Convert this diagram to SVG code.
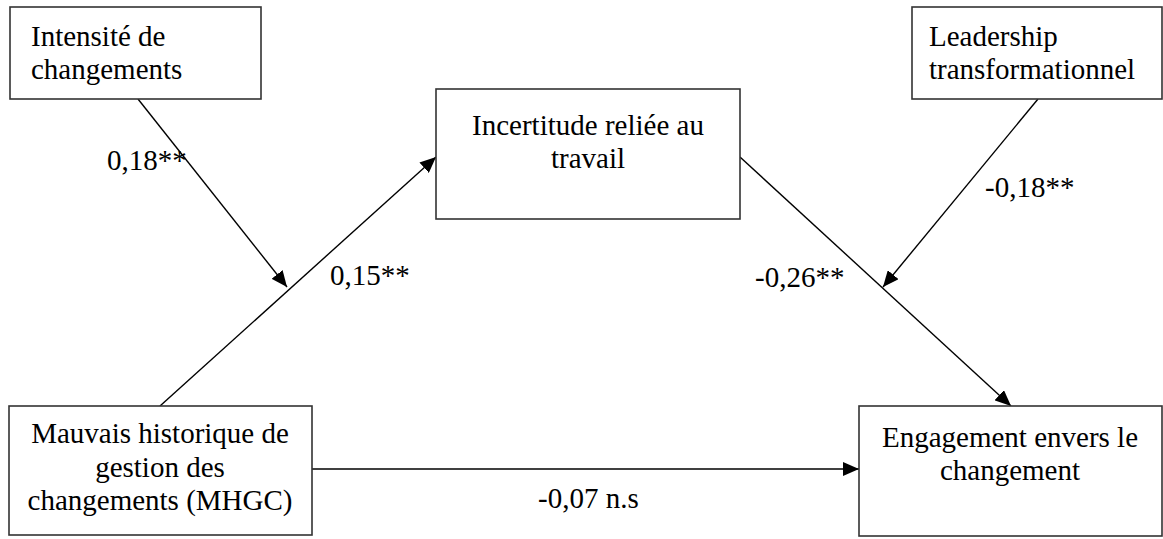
<svg xmlns="http://www.w3.org/2000/svg" width="1163" height="539" viewBox="0 0 1163 539">
<style>
.box{fill:#fff;stroke:#333;stroke-width:1.6}
.t{font-family:"Liberation Serif","Times New Roman",serif;font-size:29px;fill:#000}
.c{text-anchor:middle}
.ln{stroke:#000;stroke-width:1.4;fill:none;marker-end:url(#ah)}
</style>
<defs>
<marker id="ah" markerUnits="userSpaceOnUse" markerWidth="17" markerHeight="14" refX="16" refY="7" orient="auto">
<path d="M0,0 L16,7 L0,14 z" fill="#000"/>
</marker>
</defs>
<rect width="1163" height="539" fill="#fff"/>
<g id="connectors">
<line class="ln" x1="138" y1="99" x2="287" y2="287"/>
<line class="ln" x1="1038" y1="99" x2="883" y2="287"/>
<line class="ln" x1="160" y1="406" x2="436" y2="157"/>
<line class="ln" x1="740" y1="157" x2="1011" y2="406"/>
<line class="ln" x1="312" y1="469" x2="859" y2="469"/>
<text class="t" x="107" y="170">0,18**</text>
<text class="t" x="330" y="285">0,15**</text>
<text class="t" x="985" y="197">-0,18**</text>
<text class="t" x="755" y="287">-0,26**</text>
<text class="t" x="538" y="508">-0,07 n.s</text>
</g>
<g id="intensite">
<rect class="box" x="10" y="7" width="251" height="92"/>
<text class="t" x="31" y="46">Intensité de</text>
<text class="t" x="31" y="79">changements</text>
</g>
<g id="leadership">
<rect class="box" x="912" y="7" width="250" height="92"/>
<text class="t" x="929" y="46">Leadership</text>
<text class="t" x="929" y="79">transformationnel</text>
</g>
<g id="incertitude">
<rect class="box" x="436" y="89" width="304" height="130"/>
<text class="t c" x="588" y="135">Incertitude reliée au</text>
<text class="t c" x="588" y="168">travail</text>
</g>
<g id="mhgc">
<rect class="box" x="9" y="406" width="303" height="129"/>
<text class="t c" x="160" y="443">Mauvais historique de</text>
<text class="t c" x="160" y="477">gestion des</text>
<text class="t c" x="160" y="510">changements (MHGC)</text>
</g>
<g id="engagement">
<rect class="box" x="859" y="406" width="303" height="130"/>
<text class="t c" x="1010" y="447">Engagement envers le</text>
<text class="t c" x="1010" y="480">changement</text>
</g>
</svg>
